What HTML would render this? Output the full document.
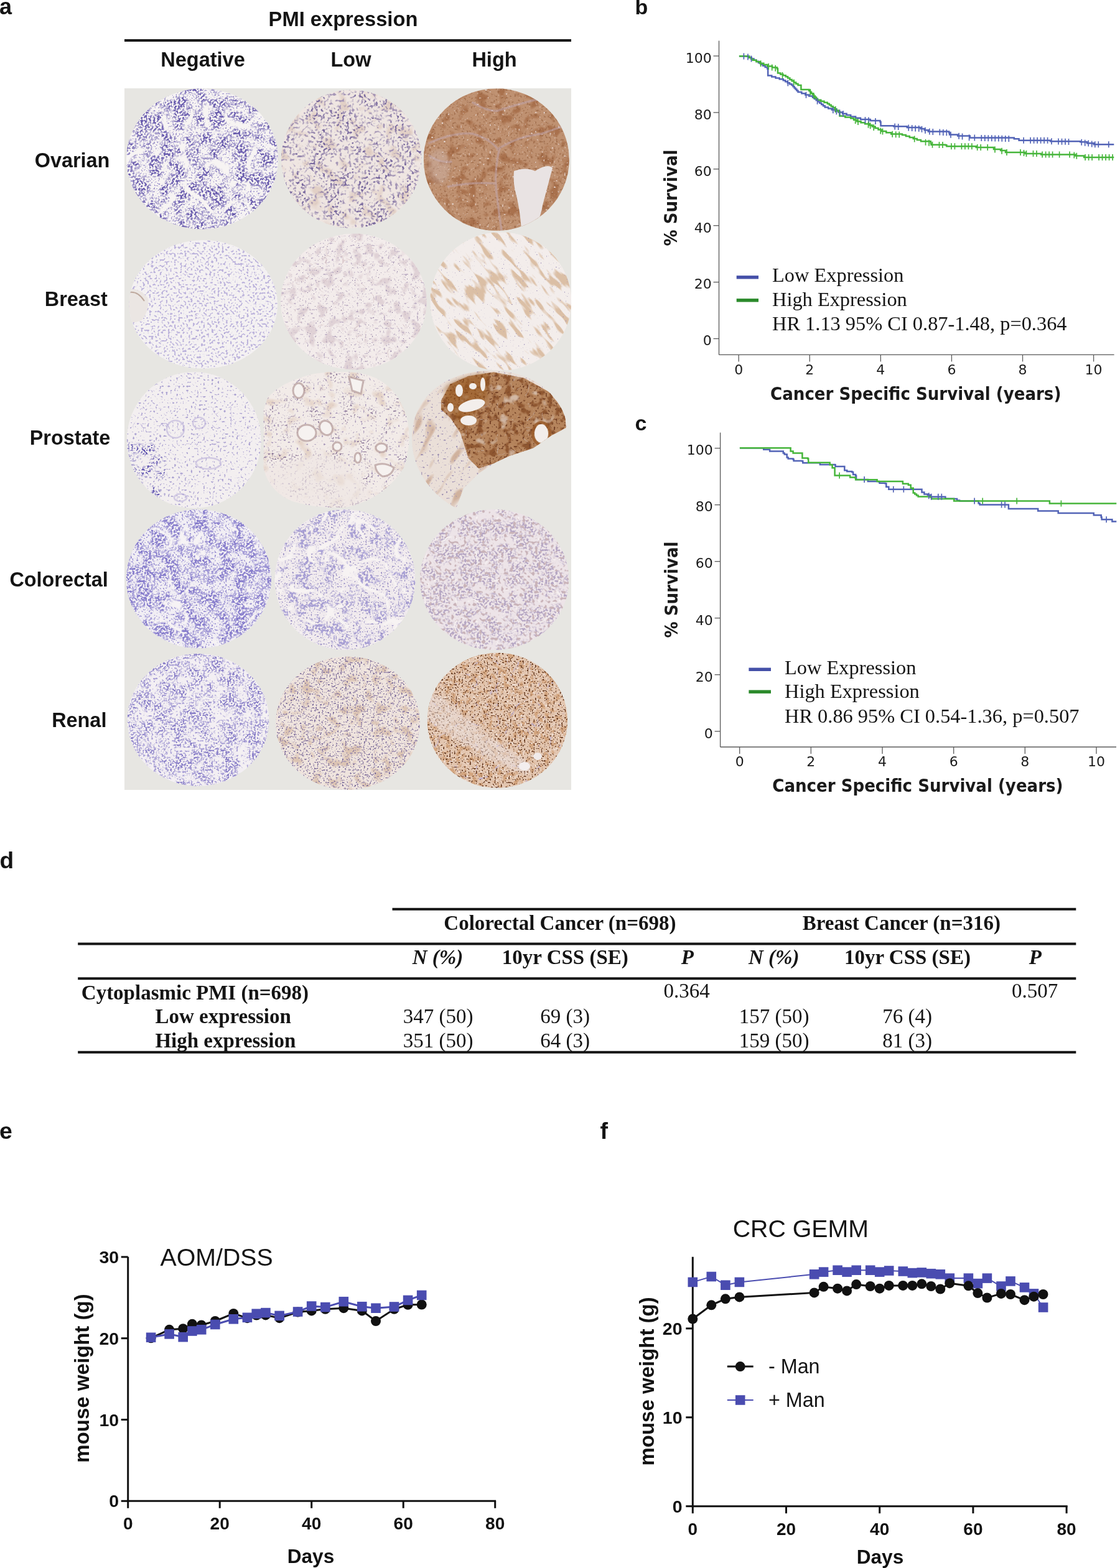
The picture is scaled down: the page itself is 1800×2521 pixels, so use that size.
<!DOCTYPE html>
<html><head><meta charset="utf-8"><title>Figure</title>
<style>
html,body{margin:0;padding:0;background:#fff;}
body{width:1800px;height:2521px;overflow:hidden;}
svg{display:block;}
</style></head>
<body>
<svg width="1800" height="2521" viewBox="0 0 1800 2521">
<defs>
<filter id="soft" x="-10%" y="-10%" width="120%" height="120%"><feGaussianBlur stdDeviation="3"/></filter>
<clipPath id="cl0"><ellipse cx="325" cy="255.5" rx="122" ry="113"/></clipPath>
<filter id="n1" x="0" y="0" width="100%" height="100%" color-interpolation-filters="sRGB"><feTurbulence type="fractalNoise" baseFrequency="0.3" numOctaves="1" seed="1" result="a"/><feColorMatrix in="a" type="matrix" values="0 0 0 0 0.420 0 0 0 0 0.369 0 0 0 0 0.682 12 0 0 0 -5.763" result="sp"/><feTurbulence type="fractalNoise" baseFrequency="0.05" numOctaves="2" seed="31" result="lo"/><feColorMatrix in="lo" type="matrix" values="0 0 0 0 0 0 0 0 0 0 0 0 0 0 0 4 0 0 0 -1.426" result="m"/><feComposite in="sp" in2="m" operator="in"/></filter>
<filter id="n2" x="0" y="0" width="100%" height="100%" color-interpolation-filters="sRGB"><feTurbulence type="fractalNoise" baseFrequency="0.4" numOctaves="1" seed="2" result="a"/><feColorMatrix in="a" type="matrix" values="0 0 0 0 0.541 0 0 0 0 0.494 0 0 0 0 0.769 10 0 0 0 -5.865" result="sp"/></filter>
<filter id="n3" x="0" y="0" width="100%" height="100%" color-interpolation-filters="sRGB"><feTurbulence type="turbulence" baseFrequency="0.015" numOctaves="2" seed="44" result="a"/><feColorMatrix in="a" type="matrix" values="0 0 0 0 0.969 0 0 0 0 0.957 0 0 0 0 0.953 -16 0 0 0 2.080"/></filter>
<clipPath id="cl1"><ellipse cx="564.8" cy="255.8" rx="112.8" ry="111.2"/></clipPath>
<filter id="n4" x="0" y="0" width="100%" height="100%" color-interpolation-filters="sRGB"><feTurbulence type="fractalNoise" baseFrequency="0.05" numOctaves="2" seed="3" result="a"/><feColorMatrix in="a" type="matrix" values="0 0 0 0 0.886 0 0 0 0 0.816 0 0 0 0 0.776 5 0 0 0 -2.642" result="sp"/></filter>
<filter id="n5" x="0" y="0" width="100%" height="100%" color-interpolation-filters="sRGB"><feTurbulence type="fractalNoise" baseFrequency="0.26" numOctaves="1" seed="4" result="a"/><feColorMatrix in="a" type="matrix" values="0 0 0 0 0.478 0 0 0 0 0.416 0 0 0 0 0.620 9 0 0 0 -4.808" result="sp"/><feTurbulence type="fractalNoise" baseFrequency="0.04" numOctaves="2" seed="32" result="lo"/><feColorMatrix in="lo" type="matrix" values="0 0 0 0 0 0 0 0 0 0 0 0 0 0 0 4 0 0 0 -1.426" result="m"/><feComposite in="sp" in2="m" operator="in"/></filter>
<filter id="n6" x="0" y="0" width="100%" height="100%" color-interpolation-filters="sRGB"><feTurbulence type="fractalNoise" baseFrequency="0.2" numOctaves="1" seed="41" result="a"/><feColorMatrix in="a" type="matrix" values="0 0 0 0 0.647 0 0 0 0 0.588 0 0 0 0 0.714 8 0 0 0 -4.754" result="sp"/></filter>
<clipPath id="cl2"><ellipse cx="797.8" cy="256.6" rx="117" ry="114.3"/></clipPath>
<filter id="n7" x="0" y="0" width="100%" height="100%" color-interpolation-filters="sRGB"><feTurbulence type="fractalNoise" baseFrequency="0.06" numOctaves="2" seed="5" result="a"/><feColorMatrix in="a" type="matrix" values="0 0 0 0 0.643 0 0 0 0 0.416 0 0 0 0 0.271 5 0 0 0 -2.570" result="sp"/></filter>
<filter id="n8" x="0" y="0" width="100%" height="100%" color-interpolation-filters="sRGB"><feTurbulence type="fractalNoise" baseFrequency="0.3" numOctaves="1" seed="6" result="a"/><feColorMatrix in="a" type="matrix" values="0 0 0 0 0.545 0 0 0 0 0.337 0 0 0 0 0.204 8 0 0 0 -4.604" result="sp"/></filter>
<filter id="n9" x="0" y="0" width="100%" height="100%" color-interpolation-filters="sRGB"><feTurbulence type="fractalNoise" baseFrequency="0.3" numOctaves="1" seed="7" result="a"/><feColorMatrix in="a" type="matrix" values="0 0 0 0 0.902 0 0 0 0 0.839 0 0 0 0 0.816 8 0 0 0 -5.259" result="sp"/></filter>
<clipPath id="cl3"><ellipse cx="326.8" cy="489.4" rx="119.3" ry="103.4"/></clipPath>
<filter id="n10" x="0" y="0" width="100%" height="100%" color-interpolation-filters="sRGB"><feTurbulence type="fractalNoise" baseFrequency="0.3" numOctaves="1" seed="8" result="a"/><feColorMatrix in="a" type="matrix" values="0 0 0 0 0.741 0 0 0 0 0.706 0 0 0 0 0.863 10 0 0 0 -5.524" result="sp"/></filter>
<filter id="n11" x="0" y="0" width="100%" height="100%" color-interpolation-filters="sRGB"><feTurbulence type="fractalNoise" baseFrequency="0.45" numOctaves="1" seed="9" result="a"/><feColorMatrix in="a" type="matrix" values="0 0 0 0 0.541 0 0 0 0 0.502 0 0 0 0 0.753 9 0 0 0 -6.396" result="sp"/></filter>
<clipPath id="cl4"><ellipse cx="568.4" cy="485" rx="117.4" ry="109.4"/></clipPath>
<filter id="n12" x="0" y="0" width="100%" height="100%" color-interpolation-filters="sRGB"><feTurbulence type="fractalNoise" baseFrequency="0.065" numOctaves="2" seed="10" result="a"/><feColorMatrix in="a" type="matrix" values="0 0 0 0 0.878 0 0 0 0 0.824 0 0 0 0 0.839 6 0 0 0 -3.136" result="sp"/></filter>
<filter id="n13" x="0" y="0" width="100%" height="100%" color-interpolation-filters="sRGB"><feTurbulence type="fractalNoise" baseFrequency="0.3" numOctaves="1" seed="11" result="a"/><feColorMatrix in="a" type="matrix" values="0 0 0 0 0.765 0 0 0 0 0.710 0 0 0 0 0.784 10 0 0 0 -6.262" result="sp"/></filter>
<filter id="n14" x="0" y="0" width="100%" height="100%" color-interpolation-filters="sRGB"><feTurbulence type="fractalNoise" baseFrequency="0.5" numOctaves="1" seed="12" result="a"/><feColorMatrix in="a" type="matrix" values="0 0 0 0 0.420 0 0 0 0 0.353 0 0 0 0 0.525 9 0 0 0 -6.396" result="sp"/></filter>
<filter id="n15" x="0" y="0" width="100%" height="100%" color-interpolation-filters="sRGB"><feTurbulence type="turbulence" baseFrequency="0.04" numOctaves="2" seed="50" result="a"/><feColorMatrix in="a" type="matrix" values="0 0 0 0 0.804 0 0 0 0 0.722 0 0 0 0 0.733 -18 0 0 0 0.900"/></filter>
<clipPath id="cl5"><ellipse cx="804.8" cy="484.5" rx="113.5" ry="111.3"/></clipPath>
<filter id="n16" x="0" y="0" width="100%" height="100%" color-interpolation-filters="sRGB"><feTurbulence type="fractalNoise" baseFrequency="0.028 0.11" numOctaves="2" seed="13" result="a"/><feColorMatrix in="a" type="matrix" values="0 0 0 0 0.859 0 0 0 0 0.749 0 0 0 0 0.647 8 0 0 0 -4.227" result="sp"/></filter>
<filter id="n17" x="0" y="0" width="100%" height="100%" color-interpolation-filters="sRGB"><feTurbulence type="fractalNoise" baseFrequency="0.45" numOctaves="1" seed="14" result="a"/><feColorMatrix in="a" type="matrix" values="0 0 0 0 0.616 0 0 0 0 0.561 0 0 0 0 0.722 9 0 0 0 -6.265" result="sp"/></filter>
<clipPath id="cl6"><ellipse cx="311.8" cy="707.5" rx="108" ry="109.5"/></clipPath>
<filter id="n18" x="0" y="0" width="100%" height="100%" color-interpolation-filters="sRGB"><feTurbulence type="fractalNoise" baseFrequency="0.3" numOctaves="1" seed="15" result="a"/><feColorMatrix in="a" type="matrix" values="0 0 0 0 0.682 0 0 0 0 0.647 0 0 0 0 0.824 10 0 0 0 -6.114" result="sp"/></filter>
<filter id="n19" x="0" y="0" width="100%" height="100%" color-interpolation-filters="sRGB"><feTurbulence type="fractalNoise" baseFrequency="0.35" numOctaves="1" seed="16" result="a"/><feColorMatrix in="a" type="matrix" values="0 0 0 0 0.376 0 0 0 0 0.333 0 0 0 0 0.690 12 0 0 0 -6.169" result="sp"/><feTurbulence type="fractalNoise" baseFrequency="0.06" numOctaves="2" seed="54" result="lo"/><feColorMatrix in="lo" type="matrix" values="0 0 0 0 0 0 0 0 0 0 0 0 0 0 0 4 0 0 0 -1.623" result="m"/><feComposite in="sp" in2="m" operator="in"/></filter>
<clipPath id="lc20"><path d="M204,715 Q220,700 245,712 Q268,735 266,765 Q262,800 240,812 Q215,805 205,785 Z"/></clipPath>
<filter id="n21" x="0" y="0" width="100%" height="100%" color-interpolation-filters="sRGB"><feTurbulence type="turbulence" baseFrequency="0.035" numOctaves="2" seed="51" result="a"/><feColorMatrix in="a" type="matrix" values="0 0 0 0 0.702 0 0 0 0 0.659 0 0 0 0 0.839 -20 0 0 0 0.800"/></filter>
<clipPath id="cl7"><path d="M423.5,660 L423.5,752 Q432,790 470,806 Q520,820 560,815 Q620,800 650,750 Q665,700 650,660 Q630,610 580,600 Q540,594 500,602 Q450,615 430,640 Z"/></clipPath>
<filter id="n22" x="0" y="0" width="100%" height="100%" color-interpolation-filters="sRGB"><feTurbulence type="fractalNoise" baseFrequency="0.05" numOctaves="2" seed="17" result="a"/><feColorMatrix in="a" type="matrix" values="0 0 0 0 0.894 0 0 0 0 0.824 0 0 0 0 0.776 4 0 0 0 -2.173" result="sp"/></filter>
<filter id="n23" x="0" y="0" width="100%" height="100%" color-interpolation-filters="sRGB"><feTurbulence type="fractalNoise" baseFrequency="0.35" numOctaves="1" seed="18" result="a"/><feColorMatrix in="a" type="matrix" values="0 0 0 0 0.541 0 0 0 0 0.459 0 0 0 0 0.588 12 0 0 0 -7.038" result="sp"/><feTurbulence type="fractalNoise" baseFrequency="0.04" numOctaves="2" seed="34" result="lo"/><feColorMatrix in="lo" type="matrix" values="0 0 0 0 0 0 0 0 0 0 0 0 0 0 0 4 0 0 0 -1.944" result="m"/><feComposite in="sp" in2="m" operator="in"/></filter>
<filter id="n24" x="0" y="0" width="100%" height="100%" color-interpolation-filters="sRGB"><feTurbulence type="fractalNoise" baseFrequency="0.3" numOctaves="1" seed="60" result="a"/><feColorMatrix in="a" type="matrix" values="0 0 0 0 0.659 0 0 0 0 0.596 0 0 0 0 0.722 10 0 0 0 -6.435" result="sp"/></filter>
<clipPath id="cl8"><path d="M733.3,816.8 C700,800 662,760 662,705 C662,640 715,596 790,596 C860,596 905,640 911.2,684 L909.6,687.9 L885.1,701 L857.3,720.5 L818.2,733.6 L793.7,745 L769.2,761.3 L744.7,785.8 Z"/></clipPath>
<filter id="n25" x="0" y="0" width="100%" height="100%" color-interpolation-filters="sRGB"><feTurbulence type="fractalNoise" baseFrequency="0.02 0.06" numOctaves="2" seed="55" result="a"/><feColorMatrix in="a" type="matrix" values="0 0 0 0 0.816 0 0 0 0 0.698 0 0 0 0 0.620 6 0 0 0 -3.453" result="sp"/></filter>
<filter id="n26" x="0" y="0" width="100%" height="100%" color-interpolation-filters="sRGB"><feTurbulence type="fractalNoise" baseFrequency="0.3" numOctaves="1" seed="42" result="a"/><feColorMatrix in="a" type="matrix" values="0 0 0 0 0.604 0 0 0 0 0.549 0 0 0 0 0.690 9 0 0 0 -5.792" result="sp"/></filter>
<clipPath id="lc27"><path d="M708.9,643.9 L723.5,617.7 L752.9,604.7 L793.7,598.2 L842.7,608 L883.5,630.8 L908,663.4 L909.6,687.9 L885.1,701 L857.3,720.5 L818.2,733.6 L793.7,745 L769.2,753 L752.9,736.9 L739.9,696.1 L723.5,671.6 L708.9,658.5 Z"/></clipPath>
<filter id="n28" x="0" y="0" width="100%" height="100%" color-interpolation-filters="sRGB"><feTurbulence type="fractalNoise" baseFrequency="0.09" numOctaves="2" seed="19" result="a"/><feColorMatrix in="a" type="matrix" values="0 0 0 0 0.557 0 0 0 0 0.337 0 0 0 0 0.188 6 0 0 0 -3.084" result="sp"/></filter>
<clipPath id="lc29"><path d="M708.9,643.9 L723.5,617.7 L752.9,604.7 L793.7,598.2 L842.7,608 L883.5,630.8 L908,663.4 L909.6,687.9 L885.1,701 L857.3,720.5 L818.2,733.6 L793.7,745 L769.2,753 L752.9,736.9 L739.9,696.1 L723.5,671.6 L708.9,658.5 Z"/></clipPath>
<filter id="n30" x="0" y="0" width="100%" height="100%" color-interpolation-filters="sRGB"><feTurbulence type="fractalNoise" baseFrequency="0.3" numOctaves="1" seed="57" result="a"/><feColorMatrix in="a" type="matrix" values="0 0 0 0 0.467 0 0 0 0 0.267 0 0 0 0 0.157 10 0 0 0 -5.943" result="sp"/></filter>
<clipPath id="lc31"><path d="M708.9,643.9 L723.5,617.7 L752.9,604.7 L793.7,598.2 L842.7,608 L883.5,630.8 L908,663.4 L909.6,687.9 L885.1,701 L857.3,720.5 L818.2,733.6 L793.7,745 L769.2,753 L752.9,736.9 L739.9,696.1 L723.5,671.6 L708.9,658.5 Z"/></clipPath>
<filter id="n32" x="0" y="0" width="100%" height="100%" color-interpolation-filters="sRGB"><feTurbulence type="fractalNoise" baseFrequency="0.06" numOctaves="2" seed="58" result="a"/><feColorMatrix in="a" type="matrix" values="0 0 0 0 0.824 0 0 0 0 0.722 0 0 0 0 0.643 6 0 0 0 -3.696" result="sp"/></filter>
<clipPath id="lc33"><path d="M708.9,643.9 L723.5,617.7 L752.9,604.7 L793.7,598.2 L842.7,608 L883.5,630.8 L908,663.4 L909.6,687.9 L885.1,701 L857.3,720.5 L818.2,733.6 L793.7,745 L769.2,753 L752.9,736.9 L739.9,696.1 L723.5,671.6 L708.9,658.5 Z"/></clipPath>
<filter id="n34" x="0" y="0" width="100%" height="100%" color-interpolation-filters="sRGB"><feTurbulence type="turbulence" baseFrequency="0.04" numOctaves="2" seed="59" result="a"/><feColorMatrix in="a" type="matrix" values="0 0 0 0 0.788 0 0 0 0 0.698 0 0 0 0 0.659 -18 0 0 0 0.900"/></filter>
<clipPath id="lc35"><path d="M708.9,643.9 L723.5,617.7 L752.9,604.7 L793.7,598.2 L842.7,608 L883.5,630.8 L908,663.4 L909.6,687.9 L885.1,701 L857.3,720.5 L818.2,733.6 L793.7,745 L769.2,753 L752.9,736.9 L739.9,696.1 L723.5,671.6 L708.9,658.5 Z"/></clipPath>
<clipPath id="cl9"><ellipse cx="319.4" cy="930.7" rx="116.6" ry="111.7"/></clipPath>
<filter id="n36" x="0" y="0" width="100%" height="100%" color-interpolation-filters="sRGB"><feTurbulence type="fractalNoise" baseFrequency="0.3" numOctaves="1" seed="20" result="a"/><feColorMatrix in="a" type="matrix" values="0 0 0 0 0.529 0 0 0 0 0.490 0 0 0 0 0.800 12 0 0 0 -5.589" result="sp"/><feTurbulence type="fractalNoise" baseFrequency="0.045" numOctaves="2" seed="35" result="lo"/><feColorMatrix in="lo" type="matrix" values="0 0 0 0 0 0 0 0 0 0 0 0 0 0 0 5 0 0 0 -1.920" result="m"/><feComposite in="sp" in2="m" operator="in"/></filter>
<filter id="n37" x="0" y="0" width="100%" height="100%" color-interpolation-filters="sRGB"><feTurbulence type="fractalNoise" baseFrequency="0.4" numOctaves="1" seed="21" result="a"/><feColorMatrix in="a" type="matrix" values="0 0 0 0 0.620 0 0 0 0 0.584 0 0 0 0 0.831 10 0 0 0 -5.587" result="sp"/></filter>
<filter id="n38" x="0" y="0" width="100%" height="100%" color-interpolation-filters="sRGB"><feTurbulence type="turbulence" baseFrequency="0.02" numOctaves="2" seed="45" result="a"/><feColorMatrix in="a" type="matrix" values="0 0 0 0 0.965 0 0 0 0 0.953 0 0 0 0 0.961 -16 0 0 0 1.600"/></filter>
<clipPath id="cl10"><ellipse cx="554.5" cy="932" rx="113" ry="113"/></clipPath>
<filter id="n39" x="0" y="0" width="100%" height="100%" color-interpolation-filters="sRGB"><feTurbulence type="fractalNoise" baseFrequency="0.25" numOctaves="1" seed="22" result="a"/><feColorMatrix in="a" type="matrix" values="0 0 0 0 0.667 0 0 0 0 0.635 0 0 0 0 0.839 10 0 0 0 -4.658" result="sp"/><feTurbulence type="fractalNoise" baseFrequency="0.05" numOctaves="2" seed="36" result="lo"/><feColorMatrix in="lo" type="matrix" values="0 0 0 0 0 0 0 0 0 0 0 0 0 0 0 6 0 0 0 -2.741" result="m"/><feComposite in="sp" in2="m" operator="in"/></filter>
<filter id="n40" x="0" y="0" width="100%" height="100%" color-interpolation-filters="sRGB"><feTurbulence type="fractalNoise" baseFrequency="0.4" numOctaves="1" seed="23" result="a"/><feColorMatrix in="a" type="matrix" values="0 0 0 0 0.604 0 0 0 0 0.565 0 0 0 0 0.769 10 0 0 0 -6.025" result="sp"/></filter>
<filter id="n41" x="0" y="0" width="100%" height="100%" color-interpolation-filters="sRGB"><feTurbulence type="turbulence" baseFrequency="0.02" numOctaves="2" seed="46" result="a"/><feColorMatrix in="a" type="matrix" values="0 0 0 0 0.969 0 0 0 0 0.953 0 0 0 0 0.953 -16 0 0 0 1.920"/></filter>
<clipPath id="cl11"><ellipse cx="794.7" cy="932" rx="119.7" ry="113"/></clipPath>
<filter id="n42" x="0" y="0" width="100%" height="100%" color-interpolation-filters="sRGB"><feTurbulence type="fractalNoise" baseFrequency="0.3" numOctaves="1" seed="24" result="a"/><feColorMatrix in="a" type="matrix" values="0 0 0 0 0.714 0 0 0 0 0.655 0 0 0 0 0.769 10 0 0 0 -4.859" result="sp"/><feTurbulence type="fractalNoise" baseFrequency="0.05" numOctaves="2" seed="37" result="lo"/><feColorMatrix in="lo" type="matrix" values="0 0 0 0 0 0 0 0 0 0 0 0 0 0 0 5 0 0 0 -1.782" result="m"/><feComposite in="sp" in2="m" operator="in"/></filter>
<filter id="n43" x="0" y="0" width="100%" height="100%" color-interpolation-filters="sRGB"><feTurbulence type="fractalNoise" baseFrequency="0.2" numOctaves="1" seed="25" result="a"/><feColorMatrix in="a" type="matrix" values="0 0 0 0 0.788 0 0 0 0 0.702 0 0 0 0 0.722 8 0 0 0 -4.470" result="sp"/></filter>
<filter id="n44" x="0" y="0" width="100%" height="100%" color-interpolation-filters="sRGB"><feTurbulence type="turbulence" baseFrequency="0.03" numOctaves="2" seed="47" result="a"/><feColorMatrix in="a" type="matrix" values="0 0 0 0 0.965 0 0 0 0 0.945 0 0 0 0 0.945 -20 0 0 0 1.200"/></filter>
<clipPath id="cl12"><ellipse cx="318.5" cy="1157.4" rx="113.9" ry="106.4"/></clipPath>
<filter id="n45" x="0" y="0" width="100%" height="100%" color-interpolation-filters="sRGB"><feTurbulence type="fractalNoise" baseFrequency="0.35" numOctaves="1" seed="26" result="a"/><feColorMatrix in="a" type="matrix" values="0 0 0 0 0.541 0 0 0 0 0.502 0 0 0 0 0.784 12 0 0 0 -6.000" result="sp"/><feTurbulence type="fractalNoise" baseFrequency="0.05" numOctaves="2" seed="38" result="lo"/><feColorMatrix in="lo" type="matrix" values="0 0 0 0 0 0 0 0 0 0 0 0 0 0 0 4 0 0 0 -1.426" result="m"/><feComposite in="sp" in2="m" operator="in"/></filter>
<filter id="n46" x="0" y="0" width="100%" height="100%" color-interpolation-filters="sRGB"><feTurbulence type="fractalNoise" baseFrequency="0.3" numOctaves="1" seed="43" result="a"/><feColorMatrix in="a" type="matrix" values="0 0 0 0 0.663 0 0 0 0 0.627 0 0 0 0 0.839 10 0 0 0 -5.865" result="sp"/></filter>
<filter id="n47" x="0" y="0" width="100%" height="100%" color-interpolation-filters="sRGB"><feTurbulence type="turbulence" baseFrequency="0.02" numOctaves="2" seed="48" result="a"/><feColorMatrix in="a" type="matrix" values="0 0 0 0 0.961 0 0 0 0 0.949 0 0 0 0 0.953 -16 0 0 0 1.280"/></filter>
<clipPath id="cl13"><ellipse cx="559" cy="1162.6" rx="116" ry="107.1"/></clipPath>
<filter id="n48" x="0" y="0" width="100%" height="100%" color-interpolation-filters="sRGB"><feTurbulence type="fractalNoise" baseFrequency="0.06" numOctaves="2" seed="27" result="a"/><feColorMatrix in="a" type="matrix" values="0 0 0 0 0.863 0 0 0 0 0.769 0 0 0 0 0.702 5 0 0 0 -2.570" result="sp"/></filter>
<filter id="n49" x="0" y="0" width="100%" height="100%" color-interpolation-filters="sRGB"><feTurbulence type="fractalNoise" baseFrequency="0.4" numOctaves="1" seed="28" result="a"/><feColorMatrix in="a" type="matrix" values="0 0 0 0 0.478 0 0 0 0 0.416 0 0 0 0 0.596 12 0 0 0 -7.282" result="sp"/></filter>
<filter id="n50" x="0" y="0" width="100%" height="100%" color-interpolation-filters="sRGB"><feTurbulence type="fractalNoise" baseFrequency="0.3" numOctaves="1" seed="49" result="a"/><feColorMatrix in="a" type="matrix" values="0 0 0 0 0.659 0 0 0 0 0.596 0 0 0 0 0.706 10 0 0 0 -6.161" result="sp"/></filter>
<clipPath id="cl14"><ellipse cx="799.3" cy="1158.2" rx="112.7" ry="108.6"/></clipPath>
<filter id="n51" x="0" y="0" width="100%" height="100%" color-interpolation-filters="sRGB"><feTurbulence type="fractalNoise" baseFrequency="0.12" numOctaves="2" seed="29" result="a"/><feColorMatrix in="a" type="matrix" values="0 0 0 0 0.824 0 0 0 0 0.643 0 0 0 0 0.494 6 0 0 0 -3.000" result="sp"/></filter>
<filter id="n52" x="0" y="0" width="100%" height="100%" color-interpolation-filters="sRGB"><feTurbulence type="fractalNoise" baseFrequency="0.3" numOctaves="1" seed="52" result="a"/><feColorMatrix in="a" type="matrix" values="0 0 0 0 0.941 0 0 0 0 0.886 0 0 0 0 0.855 10 0 0 0 -6.161" result="sp"/></filter>
<filter id="n53" x="0" y="0" width="100%" height="100%" color-interpolation-filters="sRGB"><feTurbulence type="turbulence" baseFrequency="0.03" numOctaves="2" seed="53" result="a"/><feColorMatrix in="a" type="matrix" values="0 0 0 0 0.722 0 0 0 0 0.667 0 0 0 0 0.816 -18 0 0 0 0.900"/></filter>
<filter id="n54" x="0" y="0" width="100%" height="100%" color-interpolation-filters="sRGB"><feTurbulence type="fractalNoise" baseFrequency="0.4" numOctaves="1" seed="30" result="a"/><feColorMatrix in="a" type="matrix" values="0 0 0 0 0.400 0 0 0 0 0.227 0 0 0 0 0.125 12 0 0 0 -7.131" result="sp"/></filter>
</defs>
<rect width="1800" height="2521" fill="#fff"/>
<text x="-1" y="22.7" font-family="'Liberation Sans', Arial, sans-serif" font-size="36" font-weight="bold" font-style="normal" text-anchor="start" fill="#141414">a</text>
<text x="551.5" y="41.7" font-family="'Liberation Sans', Arial, sans-serif" font-size="32.7" font-weight="bold" font-style="normal" text-anchor="middle" fill="#141414">PMI expression</text>
<line x1="200" y1="65" x2="918" y2="65" stroke="#141414" stroke-width="4"/>
<text x="326" y="107" font-family="'Liberation Sans', Arial, sans-serif" font-size="32.5" font-weight="bold" font-style="normal" text-anchor="middle" fill="#141414">Negative</text>
<text x="564" y="107" font-family="'Liberation Sans', Arial, sans-serif" font-size="32.5" font-weight="bold" font-style="normal" text-anchor="middle" fill="#141414">Low</text>
<text x="794.5" y="107" font-family="'Liberation Sans', Arial, sans-serif" font-size="32.5" font-weight="bold" font-style="normal" text-anchor="middle" fill="#141414">High</text>
<text x="176.4" y="268.5" font-family="'Liberation Sans', Arial, sans-serif" font-size="32.4" font-weight="bold" font-style="normal" text-anchor="end" fill="#141414">Ovarian</text>
<text x="172.7" y="491.6" font-family="'Liberation Sans', Arial, sans-serif" font-size="32.4" font-weight="bold" font-style="normal" text-anchor="end" fill="#141414">Breast</text>
<text x="177.3" y="715.3" font-family="'Liberation Sans', Arial, sans-serif" font-size="32.4" font-weight="bold" font-style="normal" text-anchor="end" fill="#141414">Prostate</text>
<text x="173.8" y="943" font-family="'Liberation Sans', Arial, sans-serif" font-size="32.4" font-weight="bold" font-style="normal" text-anchor="end" fill="#141414">Colorectal</text>
<text x="171.4" y="1168.6" font-family="'Liberation Sans', Arial, sans-serif" font-size="32.4" font-weight="bold" font-style="normal" text-anchor="end" fill="#141414">Renal</text>
<rect x="200" y="142" width="718" height="1128" fill="#e7e6e2"/>
<g clip-path="url(#cl0)"><rect x="203" y="142.5" width="244" height="226" fill="#f6f3f3"/><rect x="203.0" y="142.5" width="244.0" height="226.0" filter="url(#n1)"/><rect x="203.0" y="142.5" width="244.0" height="226.0" filter="url(#n2)" opacity="0.8"/><rect x="203.0" y="142.5" width="244.0" height="226.0" filter="url(#n3)"/></g>
<g clip-path="url(#cl1)"><rect x="451.99999999999994" y="144.60000000000002" width="225.6" height="222.4" fill="#efe6e2"/><rect x="452.0" y="144.6" width="225.6" height="222.4" filter="url(#n4)"/><rect x="452.0" y="144.6" width="225.6" height="222.4" filter="url(#n5)"/><rect x="452.0" y="144.6" width="225.6" height="222.4" filter="url(#n6)"/></g>
<g clip-path="url(#cl2)"><rect x="680.8" y="142.3" width="234" height="228.6" fill="#bf9171"/><rect x="680.8" y="142.3" width="234.0" height="228.6" filter="url(#n7)" opacity="0.8"/><rect x="680.8" y="142.3" width="234.0" height="228.6" filter="url(#n8)" opacity="0.5"/><rect x="680.8" y="142.3" width="234.0" height="228.6" filter="url(#n9)"/><g fill="none" stroke="#c2aab8" stroke-width="3.5" stroke-linecap="round" opacity="0.45"><path d="M690,230 Q730,212 760,215 Q790,225 800,240 Q830,220 870,215 Q900,205 912,200"/><path d="M803,238 Q795,270 797,300 Q800,330 806,370"/><path d="M720,300 Q760,292 797,295"/><path d="M760,165 Q785,180 800,178 Q830,168 870,158"/><path d="M690,250 Q705,262 725,260"/></g><path d="M826,275 Q845,268 860,275 Q880,262 888,270 Q880,300 872,330 Q868,355 856,368 L838,370 Q836,340 830,315 Q824,295 826,275 Z" fill="#e9e3e3"/><ellipse cx="705" cy="268" rx="18" ry="28" fill="#d3c0bd" opacity="0.35" filter="url(#soft)"/></g>
<g clip-path="url(#cl3)"><rect x="207.5" y="386.0" width="238.6" height="206.8" fill="#f4f1f2"/><rect x="207.5" y="386.0" width="238.6" height="206.8" filter="url(#n10)"/><rect x="207.5" y="386.0" width="238.6" height="206.8" filter="url(#n11)"/><path d="M205,465 Q225,462 238,480 Q240,500 228,515 Q215,520 205,518 Z" fill="#ebe6e3"/><path d="M208,470 Q222,468 232,484" stroke="#a08070" stroke-width="2" fill="none" opacity="0.6"/></g>
<g clip-path="url(#cl4)"><rect x="451.0" y="375.6" width="234.8" height="218.8" fill="#f3eceb"/><rect x="451.0" y="375.6" width="234.8" height="218.8" filter="url(#n12)"/><rect x="451.0" y="375.6" width="234.8" height="218.8" filter="url(#n13)"/><rect x="451.0" y="375.6" width="234.8" height="218.8" filter="url(#n14)"/><rect x="451.0" y="375.6" width="234.8" height="218.8" filter="url(#n15)" opacity="0.6"/></g>
<g clip-path="url(#cl5)"><rect x="691.3" y="373.2" width="227.0" height="222.6" fill="#f3edeb"/><g transform="rotate(50 804.8 484.5)"><rect x="634.5" y="314.2" width="340.5" height="340.5" filter="url(#n16)"/></g><rect x="691.3" y="373.2" width="227.0" height="222.6" filter="url(#n17)"/></g>
<g clip-path="url(#cl6)"><rect x="203.8" y="598.0" width="216" height="219.0" fill="#f3eff0"/><rect x="203.8" y="598.0" width="216.0" height="219.0" filter="url(#n18)"/><g clip-path="url(#lc20)"><rect x="203.8" y="598.0" width="216.0" height="219.0" filter="url(#n19)"/></g><rect x="203.8" y="598.0" width="216.0" height="219.0" filter="url(#n21)" opacity="0.7"/><g fill="none" stroke="#b6abd8" stroke-width="2.5" opacity="0.55"><ellipse cx="282" cy="690" rx="14" ry="14"/><ellipse cx="320" cy="680" rx="10" ry="9"/><ellipse cx="335" cy="745" rx="20" ry="9"/><ellipse cx="290" cy="800" rx="10" ry="6"/></g></g>
<g clip-path="url(#cl7)"><rect x="423.6" y="597.8" width="236" height="219.2" fill="#f2ebe8"/><rect x="423.6" y="597.8" width="236.0" height="219.2" filter="url(#n22)"/><rect x="423.6" y="597.8" width="236.0" height="219.2" filter="url(#n23)"/><rect x="423.6" y="597.8" width="236.0" height="219.2" filter="url(#n24)"/><g fill="#f6f2f0" stroke="#b49a98" stroke-width="3" stroke-opacity="0.7"><ellipse cx="524" cy="688" rx="10" ry="12" transform="rotate(-30 524 688)"/><ellipse cx="493" cy="696" rx="15" ry="13"/><path d="M561,606 L584,612 L580,633 L566,628 Z"/><ellipse cx="542" cy="718" rx="7" ry="7"/><ellipse cx="575" cy="736" rx="5" ry="8"/><ellipse cx="613" cy="720" rx="9" ry="7"/><path d="M603,748 Q618,742 633,752 Q630,765 615,766 Q604,760 603,748 Z"/><ellipse cx="480" cy="628" rx="9" ry="12"/></g><path d="M424,760 Q470,730 530,730 Q570,745 600,800 L560,820 L430,800 Z" fill="#efe6e3" opacity="0.6" filter="url(#soft)"/></g>
<g clip-path="url(#cl8)"><rect x="662" y="596" width="250" height="222" fill="#eadfd8"/><g transform="rotate(-60 740 760)"><rect x="552.5" y="572.5" width="375.0" height="375.0" filter="url(#n25)"/></g><rect x="662.0" y="596.0" width="250.0" height="222.0" filter="url(#n26)"/><g clip-path="url(#lc27)"><rect x="662.0" y="596.0" width="250.0" height="222.0" fill="#b5845c"/></g><g clip-path="url(#lc29)"><rect x="662.0" y="596.0" width="250.0" height="222.0" filter="url(#n28)"/></g><g clip-path="url(#lc31)"><rect x="662.0" y="596.0" width="250.0" height="222.0" filter="url(#n30)"/></g><g clip-path="url(#lc33)"><rect x="662.0" y="596.0" width="250.0" height="222.0" filter="url(#n32)"/></g><g clip-path="url(#lc35)"><rect x="662.0" y="596.0" width="250.0" height="222.0" filter="url(#n34)" opacity="0.8"/></g><path d="M716,622 Q740,603 785,600 L783,640 Q765,655 748,690 Q725,668 716,640 Z" fill="#95571f" opacity="0.55" filter="url(#soft)"/><g fill="#f3eeeb"><ellipse cx="758" cy="652" rx="22" ry="9" transform="rotate(-15 758 652)"/><ellipse cx="753" cy="676" rx="13" ry="8"/><ellipse cx="738" cy="628" rx="6" ry="10"/><ellipse cx="760" cy="621" rx="6" ry="5"/><ellipse cx="776" cy="618" rx="4" ry="11"/><ellipse cx="724" cy="655" rx="5" ry="7"/><ellipse cx="870" cy="697" rx="11" ry="15"/></g><ellipse cx="870" cy="697" rx="14" ry="18" fill="none" stroke="#9a5a28" stroke-width="4" opacity="0.8"/></g>
<g clip-path="url(#cl9)"><rect x="202.79999999999998" y="819.0" width="233.2" height="223.4" fill="#f1eef4"/><rect x="202.8" y="819.0" width="233.2" height="223.4" filter="url(#n36)"/><rect x="202.8" y="819.0" width="233.2" height="223.4" filter="url(#n37)"/><rect x="202.8" y="819.0" width="233.2" height="223.4" filter="url(#n38)"/></g>
<g clip-path="url(#cl10)"><rect x="441.5" y="819" width="226" height="226" fill="#f1ebee"/><rect x="441.5" y="819.0" width="226.0" height="226.0" filter="url(#n39)"/><rect x="441.5" y="819.0" width="226.0" height="226.0" filter="url(#n40)"/><rect x="441.5" y="819.0" width="226.0" height="226.0" filter="url(#n41)"/></g>
<g clip-path="url(#cl11)"><rect x="675.0" y="819" width="239.4" height="226" fill="#ede4e8"/><rect x="675.0" y="819.0" width="239.4" height="226.0" filter="url(#n42)"/><rect x="675.0" y="819.0" width="239.4" height="226.0" filter="url(#n43)"/><rect x="675.0" y="819.0" width="239.4" height="226.0" filter="url(#n44)"/></g>
<g clip-path="url(#cl12)"><rect x="204.6" y="1051.0" width="227.8" height="212.8" fill="#f3eff3"/><rect x="204.6" y="1051.0" width="227.8" height="212.8" filter="url(#n45)"/><rect x="204.6" y="1051.0" width="227.8" height="212.8" filter="url(#n46)"/><rect x="204.6" y="1051.0" width="227.8" height="212.8" filter="url(#n47)"/></g>
<g clip-path="url(#cl13)"><rect x="443" y="1055.5" width="232" height="214.2" fill="#efe4de"/><rect x="443.0" y="1055.5" width="232.0" height="214.2" filter="url(#n48)"/><rect x="443.0" y="1055.5" width="232.0" height="214.2" filter="url(#n49)"/><rect x="443.0" y="1055.5" width="232.0" height="214.2" filter="url(#n50)"/></g>
<g clip-path="url(#cl14)"><rect x="686.5999999999999" y="1049.6000000000001" width="225.4" height="217.2" fill="#e3c6b0"/><rect x="686.6" y="1049.6" width="225.4" height="217.2" filter="url(#n51)"/><rect x="686.6" y="1049.6" width="225.4" height="217.2" filter="url(#n52)"/><rect x="686.6" y="1049.6" width="225.4" height="217.2" filter="url(#n53)" opacity="0.8"/><rect x="686.6" y="1049.6" width="225.4" height="217.2" filter="url(#n54)"/><path d="M686,1116 Q700,1112 715,1125 Q740,1148 770,1170 Q800,1195 830,1212 Q848,1222 852,1240 Q840,1246 822,1236 Q790,1222 760,1205 Q730,1188 708,1172 Q692,1160 686,1150 Z" fill="#ece3e4" opacity="0.5" filter="url(#soft)"/><ellipse cx="843" cy="1232" rx="9" ry="7" fill="#f3eeee"/><ellipse cx="864" cy="1216" rx="7" ry="6" fill="#f0eaea"/></g>
<text x="1020.5" y="22.9" font-family="'Liberation Sans', Arial, sans-serif" font-size="34" font-weight="bold" font-style="normal" text-anchor="start" fill="#141414">b</text>
<line x1="1155.5" y1="65.5" x2="1155.5" y2="570.4" stroke="#5a5a5a" stroke-width="1.3"/>
<line x1="1155.5" y1="570.4" x2="1790.6" y2="570.4" stroke="#5a5a5a" stroke-width="1.3"/>
<line x1="1146.5" y1="90.0" x2="1155.5" y2="90.0" stroke="#5a5a5a" stroke-width="1.3"/>
<text x="1143.7" y="100.8" font-family="'DejaVu Sans', sans-serif" font-size="22" font-weight="normal" font-style="normal" text-anchor="end" fill="#1a1a1a">100</text>
<line x1="1146.5" y1="180.9" x2="1155.5" y2="180.9" stroke="#5a5a5a" stroke-width="1.3"/>
<text x="1143.7" y="191.70000000000002" font-family="'DejaVu Sans', sans-serif" font-size="22" font-weight="normal" font-style="normal" text-anchor="end" fill="#1a1a1a">80</text>
<line x1="1146.5" y1="271.8" x2="1155.5" y2="271.8" stroke="#5a5a5a" stroke-width="1.3"/>
<text x="1143.7" y="282.6" font-family="'DejaVu Sans', sans-serif" font-size="22" font-weight="normal" font-style="normal" text-anchor="end" fill="#1a1a1a">60</text>
<line x1="1146.5" y1="362.70000000000005" x2="1155.5" y2="362.70000000000005" stroke="#5a5a5a" stroke-width="1.3"/>
<text x="1143.7" y="373.50000000000006" font-family="'DejaVu Sans', sans-serif" font-size="22" font-weight="normal" font-style="normal" text-anchor="end" fill="#1a1a1a">40</text>
<line x1="1146.5" y1="453.6" x2="1155.5" y2="453.6" stroke="#5a5a5a" stroke-width="1.3"/>
<text x="1143.7" y="464.40000000000003" font-family="'DejaVu Sans', sans-serif" font-size="22" font-weight="normal" font-style="normal" text-anchor="end" fill="#1a1a1a">20</text>
<line x1="1146.5" y1="544.5" x2="1155.5" y2="544.5" stroke="#5a5a5a" stroke-width="1.3"/>
<text x="1143.7" y="555.3" font-family="'DejaVu Sans', sans-serif" font-size="22" font-weight="normal" font-style="normal" text-anchor="end" fill="#1a1a1a">0</text>
<line x1="1187.2" y1="570.4" x2="1187.2" y2="581.4" stroke="#5a5a5a" stroke-width="1.3"/>
<text x="1187.2" y="602" font-family="'DejaVu Sans', sans-serif" font-size="22" font-weight="normal" font-style="normal" text-anchor="middle" fill="#1a1a1a">0</text>
<line x1="1301.28" y1="570.4" x2="1301.28" y2="581.4" stroke="#5a5a5a" stroke-width="1.3"/>
<text x="1301.28" y="602" font-family="'DejaVu Sans', sans-serif" font-size="22" font-weight="normal" font-style="normal" text-anchor="middle" fill="#1a1a1a">2</text>
<line x1="1415.3600000000001" y1="570.4" x2="1415.3600000000001" y2="581.4" stroke="#5a5a5a" stroke-width="1.3"/>
<text x="1415.3600000000001" y="602" font-family="'DejaVu Sans', sans-serif" font-size="22" font-weight="normal" font-style="normal" text-anchor="middle" fill="#1a1a1a">4</text>
<line x1="1529.44" y1="570.4" x2="1529.44" y2="581.4" stroke="#5a5a5a" stroke-width="1.3"/>
<text x="1529.44" y="602" font-family="'DejaVu Sans', sans-serif" font-size="22" font-weight="normal" font-style="normal" text-anchor="middle" fill="#1a1a1a">6</text>
<line x1="1643.52" y1="570.4" x2="1643.52" y2="581.4" stroke="#5a5a5a" stroke-width="1.3"/>
<text x="1643.52" y="602" font-family="'DejaVu Sans', sans-serif" font-size="22" font-weight="normal" font-style="normal" text-anchor="middle" fill="#1a1a1a">8</text>
<line x1="1757.6" y1="570.4" x2="1757.6" y2="581.4" stroke="#5a5a5a" stroke-width="1.3"/>
<text x="1757.6" y="602" font-family="'DejaVu Sans', sans-serif" font-size="22" font-weight="normal" font-style="normal" text-anchor="middle" fill="#1a1a1a">10</text>
<text x="1471.7" y="642.9" font-family="'DejaVu Sans Condensed', 'DejaVu Sans', sans-serif" font-size="29" font-weight="bold" font-style="normal" text-anchor="middle" fill="#1a1a1a">Cancer Specific Survival (years)</text>
<text transform="translate(1087.7,318) rotate(-90)" x="0" y="0" font-family="'DejaVu Sans Condensed', 'DejaVu Sans', sans-serif" font-size="29" font-weight="bold" text-anchor="middle" fill="#1a1a1a">% Survival</text>
<polyline points="1187.9,90.2 1200.0,90.2 1200.0,90.5 1203.9,90.5 1203.9,92.5 1207.8,92.5 1207.8,94.6 1211.6,94.6 1211.6,96.7 1215.5,96.7 1215.5,98.7 1219.0,98.7 1219.0,101.1 1222.6,101.1 1222.6,103.4 1226.1,103.4 1226.1,105.8 1229.7,105.8 1229.7,108.1 1233.2,108.1 1233.2,110.5 1234.2,110.5 1234.2,121.4 1240.3,121.4 1240.3,123.4 1246.5,123.4 1246.5,125.4 1252.7,125.4 1252.7,127.3 1258.8,127.3 1258.8,129.3 1262.2,129.3 1262.2,131.2 1265.7,131.2 1265.7,133.2 1269.1,133.2 1269.1,135.2 1272.6,135.2 1272.6,137.1 1274.6,137.1 1274.6,139.3 1276.6,139.3 1276.6,141.5 1278.5,141.5 1278.5,143.6 1280.5,143.6 1280.5,145.8 1282.5,145.8 1282.5,148.0 1288.4,148.0 1288.4,150.2 1294.3,150.2 1294.3,152.4 1300.2,152.4 1300.2,154.6 1306.1,154.6 1306.1,156.8 1308.9,156.8 1308.9,159.1 1311.7,159.1 1311.7,161.3 1314.5,161.3 1314.5,163.6 1317.4,163.6 1317.4,165.8 1320.2,165.8 1320.2,168.1 1323.0,168.1 1323.0,170.3 1325.8,170.3 1325.8,172.6 1331.2,172.6 1331.2,174.6 1336.7,174.6 1336.7,176.6 1342.1,176.6 1342.1,178.5 1347.5,178.5 1347.5,180.5 1354.1,180.5 1354.1,182.8 1360.6,182.8 1360.6,185.1 1367.2,185.1 1367.2,187.4 1375.1,187.4 1375.1,189.7 1383.0,189.7 1383.0,191.9 1398.8,191.9 1398.8,193.9 1414.5,193.9 1414.5,195.9 1415.5,195.9 1415.5,202.2 1436.2,202.2 1436.2,203.2 1457.8,203.2 1457.8,205.1 1479.5,205.1 1479.5,207.1 1485.7,207.1 1485.7,209.3 1491.8,209.3 1491.8,211.5 1525.3,211.5 1525.3,213.5 1526.0,213.5 1526.0,216.5 1539.1,216.5 1539.1,218.4 1558.8,218.4 1558.8,221.4 1629.8,221.4 1629.8,223.3 1637.6,223.3 1637.6,225.7 1686.9,225.7 1686.9,225.7 1688.0,225.7 1688.0,227.3 1736.2,227.3 1736.2,228.3 1747.0,228.3 1747.0,230.2 1757.8,230.2 1757.8,232.2 1790.3,232.2 1790.3,232.2" fill="none" stroke="#5263b6" stroke-width="2.5"/>
<polyline points="1187.9,90.2 1201.7,90.2 1201.7,90.8 1204.3,90.8 1204.3,92.8 1207.0,92.8 1207.0,94.7 1209.6,94.7 1209.6,96.7 1215.5,96.7 1215.5,99.2 1221.4,99.2 1221.4,101.7 1227.3,101.7 1227.3,104.1 1233.2,104.1 1233.2,106.6 1241.1,106.6 1241.1,108.5 1249.0,108.5 1249.0,110.5 1250.0,110.5 1250.0,117.4 1254.3,117.4 1254.3,119.4 1258.5,119.4 1258.5,121.3 1262.8,121.3 1262.8,123.3 1266.1,123.3 1266.1,125.6 1269.4,125.6 1269.4,127.9 1272.7,127.9 1272.7,130.2 1275.9,130.2 1275.9,132.5 1279.2,132.5 1279.2,134.8 1282.5,134.8 1282.5,137.1 1287.4,137.1 1287.4,144.0 1300.2,144.0 1300.2,146.0 1302.2,146.0 1302.2,148.1 1304.1,148.1 1304.1,150.2 1306.1,150.2 1306.1,152.3 1308.1,152.3 1308.1,154.5 1310.1,154.5 1310.1,156.6 1312.0,156.6 1312.0,158.7 1314.0,158.7 1314.0,160.8 1319.3,160.8 1319.3,162.8 1324.5,162.8 1324.5,164.7 1329.8,164.7 1329.8,166.7 1332.8,166.7 1332.8,168.8 1335.7,168.8 1335.7,171.0 1338.7,171.0 1338.7,173.1 1341.6,173.1 1341.6,175.2 1344.5,175.2 1344.5,177.4 1347.5,177.4 1347.5,179.5 1349.5,179.5 1349.5,186.4 1358.3,186.4 1358.3,188.4 1367.2,188.4 1367.2,190.3 1372.1,190.3 1372.1,192.8 1377.0,192.8 1377.0,195.3 1383.6,195.3 1383.6,197.3 1390.1,197.3 1390.1,199.2 1396.7,199.2 1396.7,201.2 1401.7,201.2 1401.7,203.6 1406.6,203.6 1406.6,206.1 1411.5,206.1 1411.5,208.6 1416.5,208.6 1416.5,211.0 1424.3,211.0 1424.3,213.3 1432.2,213.3 1432.2,215.6 1450.0,215.6 1450.0,217.0 1455.9,217.0 1455.9,219.0 1461.8,219.0 1461.8,220.9 1467.7,220.9 1467.7,222.9 1473.8,222.9 1473.8,225.1 1480.0,225.1 1480.0,227.3 1495.8,227.3 1495.8,230.2 1496.5,230.2 1496.5,232.8 1519.4,232.8 1519.4,233.2 1521.4,233.2 1521.4,235.2 1566.7,235.2 1566.7,235.2 1568.7,235.2 1568.7,237.1 1596.3,237.1 1596.3,237.1 1597.0,237.1 1597.0,240.1 1608.1,240.1 1608.1,242.1 1616.0,242.1 1616.0,245.0 1643.5,245.0 1643.5,245.0 1647.5,245.0 1647.5,247.0 1671.1,247.0 1671.1,247.0 1673.1,247.0 1673.1,248.6 1724.3,248.6 1724.3,248.6 1728.3,248.6 1728.3,250.5 1742.1,250.5 1742.1,252.9 1790.3,252.9 1790.3,252.9" fill="none" stroke="#45b53a" stroke-width="2.5"/>
<path d="M1195.4,85.4v10 M1202.0,86.6v10 M1207.5,89.5v10 M1266.3,128.5v10 M1295.5,147.8v10 M1313.6,157.8v10 M1338.8,172.3v10 M1344.3,174.3v10 M1349.5,176.2v10 M1355.0,178.1v10 M1390.5,187.9v10 M1396.0,188.6v10 M1407.0,189.9v10 M1438.2,198.4v10 M1443.7,198.9v10 M1460.2,200.4v10 M1465.7,200.9v10 M1471.2,201.4v10 M1476.7,201.8v10 M1481.5,202.8v10 M1487.0,204.8v10 M1493.8,206.6v10 M1499.3,206.9v10 M1510.3,207.6v10 M1515.8,207.9v10 M1521.3,208.3v10 M1528.0,211.8v10 M1541.1,213.7v10 M1546.6,214.5v10 M1557.6,216.2v10 M1566.3,216.6v10 M1577.3,216.9v10 M1582.8,217.0v10 M1588.3,217.2v10 M1593.8,217.3v10 M1599.3,217.5v10 M1604.8,217.6v10 M1610.3,217.8v10 M1615.8,217.9v10 M1621.3,218.1v10 M1645.1,220.7v10 M1656.1,220.7v10 M1661.6,220.7v10 M1667.1,220.7v10 M1672.6,220.7v10 M1678.1,220.7v10 M1683.6,220.7v10 M1690.0,222.3v10 M1701.0,222.6v10 M1706.5,222.7v10 M1712.0,222.8v10 M1717.5,222.9v10 M1738.2,223.7v10 M1743.7,224.7v10 M1749.2,225.6v10 M1754.7,226.6v10 M1759.8,227.2v10 M1765.3,227.2v10 M1781.8,227.2v10" stroke="#5263b6" stroke-width="1.7" fill="none"/>
<path d="M1222.6,97.2v10 M1235.2,102.1v10 M1240.7,103.5v10 M1246.2,104.8v10 M1257.5,115.9v10 M1275.8,127.4v10 M1302.2,143.1v10 M1307.7,149.0v10 M1342.8,171.1v10 M1374.7,189.1v10 M1379.0,190.9v10 M1395.5,195.8v10 M1398.7,197.2v10 M1404.2,199.9v10 M1415.2,205.4v10 M1418.5,206.6v10 M1434.2,210.8v10 M1439.7,211.2v10 M1445.2,211.6v10 M1469.7,218.6v10 M1487.5,223.7v10 M1493.0,224.7v10 M1498.5,227.8v10 M1509.5,228.0v10 M1515.0,228.1v10 M1528.9,230.2v10 M1534.4,230.2v10 M1545.4,230.2v10 M1550.9,230.2v10 M1556.4,230.2v10 M1561.9,230.2v10 M1570.7,232.1v10 M1576.2,232.1v10 M1587.2,232.1v10 M1599.0,235.5v10 M1610.1,237.8v10 M1618.0,240.0v10 M1640.0,240.0v10 M1645.5,241.0v10 M1649.5,242.0v10 M1660.5,242.0v10 M1666.0,242.0v10 M1675.1,243.6v10 M1680.6,243.6v10 M1686.1,243.6v10 M1691.6,243.6v10 M1702.6,243.6v10 M1719.1,243.6v10 M1726.3,244.6v10 M1730.3,245.8v10 M1744.1,247.9v10 M1749.6,247.9v10 M1755.1,247.9v10 M1766.1,247.9v10 M1771.6,247.9v10 M1777.1,247.9v10 M1782.6,247.9v10 M1788.1,247.9v10" stroke="#45b53a" stroke-width="1.7" fill="none"/>
<rect x="1183.7" y="443.1" width="35.299999999999955" height="5.4" fill="#4550a8"/>
<rect x="1183.7" y="480.1" width="35.299999999999955" height="5.4" fill="#2b8a2b"/>
<text x="1241" y="453" font-family="'Liberation Serif', 'Times New Roman', serif" font-size="32.4" font-weight="normal" font-style="normal" text-anchor="start" fill="#141414">Low Expression</text>
<text x="1241" y="491.6" font-family="'Liberation Serif', 'Times New Roman', serif" font-size="32.4" font-weight="normal" font-style="normal" text-anchor="start" fill="#141414">High Expression</text>
<text x="1241" y="531" font-family="'Liberation Serif', 'Times New Roman', serif" font-size="32.4" font-weight="normal" font-style="normal" text-anchor="start" fill="#141414">HR 1.13 95% CI 0.87-1.48, p=0.364</text>
<text x="1020.5" y="692" font-family="'Liberation Sans', Arial, sans-serif" font-size="34" font-weight="bold" font-style="normal" text-anchor="start" fill="#141414">c</text>
<line x1="1157.6" y1="695.5" x2="1157.6" y2="1201" stroke="#5a5a5a" stroke-width="1.3"/>
<line x1="1157.6" y1="1201" x2="1794" y2="1201" stroke="#5a5a5a" stroke-width="1.3"/>
<line x1="1148.6" y1="720.6" x2="1157.6" y2="720.6" stroke="#5a5a5a" stroke-width="1.3"/>
<text x="1145.8" y="731.4" font-family="'DejaVu Sans', sans-serif" font-size="22" font-weight="normal" font-style="normal" text-anchor="end" fill="#1a1a1a">100</text>
<line x1="1148.6" y1="811.64" x2="1157.6" y2="811.64" stroke="#5a5a5a" stroke-width="1.3"/>
<text x="1145.8" y="822.4399999999999" font-family="'DejaVu Sans', sans-serif" font-size="22" font-weight="normal" font-style="normal" text-anchor="end" fill="#1a1a1a">80</text>
<line x1="1148.6" y1="902.6800000000001" x2="1157.6" y2="902.6800000000001" stroke="#5a5a5a" stroke-width="1.3"/>
<text x="1145.8" y="913.48" font-family="'DejaVu Sans', sans-serif" font-size="22" font-weight="normal" font-style="normal" text-anchor="end" fill="#1a1a1a">60</text>
<line x1="1148.6" y1="993.72" x2="1157.6" y2="993.72" stroke="#5a5a5a" stroke-width="1.3"/>
<text x="1145.8" y="1004.52" font-family="'DejaVu Sans', sans-serif" font-size="22" font-weight="normal" font-style="normal" text-anchor="end" fill="#1a1a1a">40</text>
<line x1="1148.6" y1="1084.76" x2="1157.6" y2="1084.76" stroke="#5a5a5a" stroke-width="1.3"/>
<text x="1145.8" y="1095.56" font-family="'DejaVu Sans', sans-serif" font-size="22" font-weight="normal" font-style="normal" text-anchor="end" fill="#1a1a1a">20</text>
<line x1="1148.6" y1="1175.8000000000002" x2="1157.6" y2="1175.8000000000002" stroke="#5a5a5a" stroke-width="1.3"/>
<text x="1145.8" y="1186.6000000000001" font-family="'DejaVu Sans', sans-serif" font-size="22" font-weight="normal" font-style="normal" text-anchor="end" fill="#1a1a1a">0</text>
<line x1="1188.7" y1="1201" x2="1188.7" y2="1212" stroke="#5a5a5a" stroke-width="1.3"/>
<text x="1188.7" y="1232.4" font-family="'DejaVu Sans', sans-serif" font-size="22" font-weight="normal" font-style="normal" text-anchor="middle" fill="#1a1a1a">0</text>
<line x1="1303.3600000000001" y1="1201" x2="1303.3600000000001" y2="1212" stroke="#5a5a5a" stroke-width="1.3"/>
<text x="1303.3600000000001" y="1232.4" font-family="'DejaVu Sans', sans-serif" font-size="22" font-weight="normal" font-style="normal" text-anchor="middle" fill="#1a1a1a">2</text>
<line x1="1418.02" y1="1201" x2="1418.02" y2="1212" stroke="#5a5a5a" stroke-width="1.3"/>
<text x="1418.02" y="1232.4" font-family="'DejaVu Sans', sans-serif" font-size="22" font-weight="normal" font-style="normal" text-anchor="middle" fill="#1a1a1a">4</text>
<line x1="1532.68" y1="1201" x2="1532.68" y2="1212" stroke="#5a5a5a" stroke-width="1.3"/>
<text x="1532.68" y="1232.4" font-family="'DejaVu Sans', sans-serif" font-size="22" font-weight="normal" font-style="normal" text-anchor="middle" fill="#1a1a1a">6</text>
<line x1="1647.3400000000001" y1="1201" x2="1647.3400000000001" y2="1212" stroke="#5a5a5a" stroke-width="1.3"/>
<text x="1647.3400000000001" y="1232.4" font-family="'DejaVu Sans', sans-serif" font-size="22" font-weight="normal" font-style="normal" text-anchor="middle" fill="#1a1a1a">8</text>
<line x1="1762.0" y1="1201" x2="1762.0" y2="1212" stroke="#5a5a5a" stroke-width="1.3"/>
<text x="1762.0" y="1232.4" font-family="'DejaVu Sans', sans-serif" font-size="22" font-weight="normal" font-style="normal" text-anchor="middle" fill="#1a1a1a">10</text>
<text x="1474.9" y="1273.3" font-family="'DejaVu Sans Condensed', 'DejaVu Sans', sans-serif" font-size="29" font-weight="bold" font-style="normal" text-anchor="middle" fill="#1a1a1a">Cancer Specific Survival (years)</text>
<text transform="translate(1088.7,948) rotate(-90)" x="0" y="0" font-family="'DejaVu Sans Condensed', 'DejaVu Sans', sans-serif" font-size="29" font-weight="bold" text-anchor="middle" fill="#1a1a1a">% Survival</text>
<polyline points="1188.9,720.3 1224.3,720.3 1224.3,720.3 1227.3,720.3 1227.3,722.7 1237.1,722.7 1237.1,722.7 1237.1,722.7 1237.1,725.6 1254.9,725.6 1254.9,725.6 1258.8,725.6 1258.8,728.6 1260.8,728.6 1260.8,730.5 1264.7,730.5 1264.7,735.5 1266.7,735.5 1266.7,737.4 1274.6,737.4 1274.6,738.4 1275.6,738.4 1275.6,741.0 1289.4,741.0 1289.4,741.4 1290.3,741.4 1290.3,744.3 1317.9,744.3 1317.9,744.3 1317.9,744.3 1317.9,746.9 1333.7,746.9 1333.7,746.9 1341.6,746.9 1341.6,747.3 1342.6,747.3 1342.6,749.9 1356.4,749.9 1356.4,749.9 1357.3,749.9 1357.3,756.2 1361.3,756.2 1361.3,758.1 1369.2,758.1 1369.2,759.1 1371.1,759.1 1371.1,763.1 1375.1,763.1 1375.1,765.0 1376.1,765.0 1376.1,770.9 1393.8,770.9 1393.8,770.9 1394.8,770.9 1394.8,773.9 1412.5,773.9 1412.5,774.5 1413.5,774.5 1413.5,776.8 1422.4,776.8 1422.4,777.2 1424.3,777.2 1424.3,782.8 1428.3,782.8 1428.3,786.7 1480.5,786.7 1480.5,786.7 1481.5,786.7 1481.5,791.6 1485.4,791.6 1485.4,794.6 1490.8,794.6 1490.8,795.8 1494.8,795.8 1494.8,798.7 1518.4,798.7 1518.4,798.7 1519.4,798.7 1519.4,801.7 1533.2,801.7 1533.2,802.1 1538.1,802.1 1538.1,804.6 1542.1,804.6 1542.1,805.6 1570.6,805.6 1570.6,805.6 1572.6,805.6 1572.6,809.2 1574.6,809.2 1574.6,811.5 1618.9,811.5 1618.9,811.5 1620.9,811.5 1620.9,818.0 1667.2,818.0 1667.2,818.0 1668.2,818.0 1668.2,821.4 1700.7,821.4 1700.7,821.4 1700.7,821.4 1700.7,824.9 1756.8,824.9 1756.8,824.9 1757.8,824.9 1757.8,828.3 1766.7,828.3 1766.7,828.3 1769.7,828.3 1769.7,831.6 1770.6,831.6 1770.6,835.2 1786.4,835.2 1786.4,835.2 1787.4,835.2 1787.4,838.5 1794.3,838.5 1794.3,838.5" fill="none" stroke="#5263b6" stroke-width="2.5"/>
<polyline points="1188.9,720.3 1270.6,720.3 1270.6,720.3 1270.6,720.3 1270.6,725.6 1274.6,725.6 1274.6,728.6 1287.4,728.6 1287.4,728.6 1289.4,728.6 1289.4,736.5 1298.2,736.5 1298.2,737.4 1299.2,737.4 1299.2,743.7 1329.8,743.7 1329.8,743.7 1333.7,743.7 1333.7,747.3 1337.6,747.3 1337.6,752.2 1341.6,752.2 1341.6,759.1 1341.6,759.1 1341.6,764.6 1365.2,764.6 1365.2,764.6 1366.2,764.6 1366.2,767.4 1374.1,767.4 1374.1,768.0 1375.1,768.0 1375.1,771.3 1408.6,771.3 1408.6,771.3 1409.6,771.3 1409.6,773.9 1447.0,773.9 1447.0,773.9 1450.9,773.9 1450.9,777.8 1459.8,777.8 1459.8,779.8 1463.7,779.8 1463.7,784.7 1467.7,784.7 1467.7,792.6 1470.3,792.6 1470.3,794.6 1473.0,794.6 1473.0,796.5 1475.6,796.5 1475.6,798.5 1495.8,798.5 1495.8,799.5 1497.0,799.5 1497.0,802.1 1533.2,802.1 1533.2,802.1 1533.2,802.1 1533.2,805.6 1685.9,805.6 1685.9,805.6 1686.9,805.6 1686.9,809.6 1794.3,809.6 1794.3,809.6" fill="none" stroke="#45b53a" stroke-width="2.5"/>
<path d="M1389.1,765.9v10 M1435.8,781.7v10 M1452.3,781.7v10 M1492.8,792.2v10 M1496.8,793.7v10 M1507.8,793.7v10 M1513.3,793.7v10 M1566.1,800.6v10 M1609.6,806.5v10 M1615.1,806.5v10 M1778.1,830.2v10" stroke="#5263b6" stroke-width="1.7" fill="none"/>
<path d="M1349.1,759.6v10 M1579.2,800.6v10 M1634.2,800.6v10 M1705.4,804.6v10" stroke="#45b53a" stroke-width="1.7" fill="none"/>
<rect x="1203.4" y="1073.6" width="35.59999999999991" height="5.4" fill="#4550a8"/>
<rect x="1203.4" y="1109.5" width="35.59999999999991" height="5.4" fill="#2b8a2b"/>
<text x="1261" y="1083.6" font-family="'Liberation Serif', 'Times New Roman', serif" font-size="32.4" font-weight="normal" font-style="normal" text-anchor="start" fill="#141414">Low Expression</text>
<text x="1261" y="1122" font-family="'Liberation Serif', 'Times New Roman', serif" font-size="32.4" font-weight="normal" font-style="normal" text-anchor="start" fill="#141414">High Expression</text>
<text x="1261" y="1161.5" font-family="'Liberation Serif', 'Times New Roman', serif" font-size="32.4" font-weight="normal" font-style="normal" text-anchor="start" fill="#141414">HR 0.86 95% CI 0.54-1.36, p=0.507</text>
<text x="-0.5" y="1395.7" font-family="'Liberation Sans', Arial, sans-serif" font-size="37" font-weight="bold" font-style="normal" text-anchor="start" fill="#141414">d</text>
<line x1="630.5" y1="1461.7" x2="1729.3" y2="1461.7" stroke="#141414" stroke-width="4"/>
<line x1="125.2" y1="1517.4" x2="1729.3" y2="1517.4" stroke="#141414" stroke-width="4"/>
<line x1="125.2" y1="1573.3" x2="1729.3" y2="1573.3" stroke="#141414" stroke-width="4"/>
<line x1="125.2" y1="1691.8" x2="1729.3" y2="1691.8" stroke="#141414" stroke-width="4"/>
<text x="899.9" y="1494.7" font-family="'Liberation Serif', 'Times New Roman', serif" font-size="33" font-weight="bold" font-style="normal" text-anchor="middle" fill="#141414">Colorectal Cancer (n=698)</text>
<text x="1448.9" y="1494.7" font-family="'Liberation Serif', 'Times New Roman', serif" font-size="33" font-weight="bold" font-style="normal" text-anchor="middle" fill="#141414">Breast Cancer (n=316)</text>
<text x="703.5" y="1550" font-family="'Liberation Serif', 'Times New Roman', serif" font-size="33" font-weight="bold" font-style="italic" text-anchor="middle" fill="#141414">N (%)</text>
<text x="908.3" y="1550" font-family="'Liberation Serif', 'Times New Roman', serif" font-size="33" font-weight="bold" font-style="normal" text-anchor="middle" fill="#141414">10yr CSS (SE)</text>
<text x="1104.9" y="1550" font-family="'Liberation Serif', 'Times New Roman', serif" font-size="33" font-weight="bold" font-style="italic" text-anchor="middle" fill="#141414">P</text>
<text x="1243.7" y="1550" font-family="'Liberation Serif', 'Times New Roman', serif" font-size="33" font-weight="bold" font-style="italic" text-anchor="middle" fill="#141414">N (%)</text>
<text x="1458.5" y="1550" font-family="'Liberation Serif', 'Times New Roman', serif" font-size="33" font-weight="bold" font-style="normal" text-anchor="middle" fill="#141414">10yr CSS (SE)</text>
<text x="1663.9" y="1550" font-family="'Liberation Serif', 'Times New Roman', serif" font-size="33" font-weight="bold" font-style="italic" text-anchor="middle" fill="#141414">P</text>
<text x="130.8" y="1606.6" font-family="'Liberation Serif', 'Times New Roman', serif" font-size="33" font-weight="bold" font-style="normal" text-anchor="start" fill="#141414">Cytoplasmic PMI (n=698)</text>
<text x="1103.7" y="1604.4" font-family="'Liberation Serif', 'Times New Roman', serif" font-size="33" font-weight="normal" font-style="normal" text-anchor="middle" fill="#141414">0.364</text>
<text x="1663" y="1604.4" font-family="'Liberation Serif', 'Times New Roman', serif" font-size="33" font-weight="normal" font-style="normal" text-anchor="middle" fill="#141414">0.507</text>
<text x="249.4" y="1645.4" font-family="'Liberation Serif', 'Times New Roman', serif" font-size="33" font-weight="bold" font-style="normal" text-anchor="start" fill="#141414">Low expression</text>
<text x="249.4" y="1684.2" font-family="'Liberation Serif', 'Times New Roman', serif" font-size="33" font-weight="bold" font-style="normal" text-anchor="start" fill="#141414">High expression</text>
<text x="704.2" y="1645" font-family="'Liberation Serif', 'Times New Roman', serif" font-size="33" font-weight="normal" font-style="normal" text-anchor="middle" fill="#141414">347 (50)</text>
<text x="908.2" y="1645" font-family="'Liberation Serif', 'Times New Roman', serif" font-size="33" font-weight="normal" font-style="normal" text-anchor="middle" fill="#141414">69 (3)</text>
<text x="1244.2" y="1645" font-family="'Liberation Serif', 'Times New Roman', serif" font-size="33" font-weight="normal" font-style="normal" text-anchor="middle" fill="#141414">157 (50)</text>
<text x="1458.2" y="1645" font-family="'Liberation Serif', 'Times New Roman', serif" font-size="33" font-weight="normal" font-style="normal" text-anchor="middle" fill="#141414">76 (4)</text>
<text x="704.2" y="1683.8" font-family="'Liberation Serif', 'Times New Roman', serif" font-size="33" font-weight="normal" font-style="normal" text-anchor="middle" fill="#141414">351 (50)</text>
<text x="908.2" y="1683.8" font-family="'Liberation Serif', 'Times New Roman', serif" font-size="33" font-weight="normal" font-style="normal" text-anchor="middle" fill="#141414">64 (3)</text>
<text x="1244.2" y="1683.8" font-family="'Liberation Serif', 'Times New Roman', serif" font-size="33" font-weight="normal" font-style="normal" text-anchor="middle" fill="#141414">159 (50)</text>
<text x="1458.2" y="1683.8" font-family="'Liberation Serif', 'Times New Roman', serif" font-size="33" font-weight="normal" font-style="normal" text-anchor="middle" fill="#141414">81 (3)</text>
<text x="-1" y="1830.8" font-family="'Liberation Sans', Arial, sans-serif" font-size="37.5" font-weight="bold" font-style="normal" text-anchor="start" fill="#141414">e</text>
<text x="257.5" y="2034.9" font-family="'Liberation Sans', Arial, sans-serif" font-size="39.3" font-weight="normal" font-style="normal" text-anchor="start" fill="#141414">AOM/DSS</text>
<line x1="205.7" y1="2020.8" x2="205.7" y2="2414.8" stroke="#111" stroke-width="3"/>
<line x1="204.2" y1="2413.3" x2="797.1" y2="2413.3" stroke="#111" stroke-width="3"/>
<line x1="194.7" y1="2413.3" x2="205.7" y2="2413.3" stroke="#111" stroke-width="3"/>
<text x="191.2" y="2423.3" font-family="'Liberation Sans', Arial, sans-serif" font-size="28.5" font-weight="bold" font-style="normal" text-anchor="end" fill="#111">0</text>
<line x1="194.7" y1="2282.5" x2="205.7" y2="2282.5" stroke="#111" stroke-width="3"/>
<text x="191.2" y="2292.5" font-family="'Liberation Sans', Arial, sans-serif" font-size="28.5" font-weight="bold" font-style="normal" text-anchor="end" fill="#111">10</text>
<line x1="194.7" y1="2151.7000000000003" x2="205.7" y2="2151.7000000000003" stroke="#111" stroke-width="3"/>
<text x="191.2" y="2161.7000000000003" font-family="'Liberation Sans', Arial, sans-serif" font-size="28.5" font-weight="bold" font-style="normal" text-anchor="end" fill="#111">20</text>
<line x1="194.7" y1="2020.9" x2="205.7" y2="2020.9" stroke="#111" stroke-width="3"/>
<text x="191.2" y="2030.9" font-family="'Liberation Sans', Arial, sans-serif" font-size="28.5" font-weight="bold" font-style="normal" text-anchor="end" fill="#111">30</text>
<line x1="205.7" y1="2413.3" x2="205.7" y2="2424.8" stroke="#111" stroke-width="3"/>
<text x="205.7" y="2459.3" font-family="'Liberation Sans', Arial, sans-serif" font-size="28" font-weight="bold" font-style="normal" text-anchor="middle" fill="#111">0</text>
<line x1="353.2" y1="2413.3" x2="353.2" y2="2424.8" stroke="#111" stroke-width="3"/>
<text x="353.2" y="2459.3" font-family="'Liberation Sans', Arial, sans-serif" font-size="28" font-weight="bold" font-style="normal" text-anchor="middle" fill="#111">20</text>
<line x1="500.7" y1="2413.3" x2="500.7" y2="2424.8" stroke="#111" stroke-width="3"/>
<text x="500.7" y="2459.3" font-family="'Liberation Sans', Arial, sans-serif" font-size="28" font-weight="bold" font-style="normal" text-anchor="middle" fill="#111">40</text>
<line x1="648.2" y1="2413.3" x2="648.2" y2="2424.8" stroke="#111" stroke-width="3"/>
<text x="648.2" y="2459.3" font-family="'Liberation Sans', Arial, sans-serif" font-size="28" font-weight="bold" font-style="normal" text-anchor="middle" fill="#111">60</text>
<line x1="795.7" y1="2413.3" x2="795.7" y2="2424.8" stroke="#111" stroke-width="3"/>
<text x="795.7" y="2459.3" font-family="'Liberation Sans', Arial, sans-serif" font-size="28" font-weight="bold" font-style="normal" text-anchor="middle" fill="#111">80</text>
<polyline points="242.6,2151.3 272.1,2137.8 294.2,2136.2 308.9,2128.8 323.7,2130.4 345.8,2124.0 375.3,2111.9 397.4,2119.2 412.2,2114.5 426.9,2114.4 449.1,2119.2 478.6,2109.6 500.7,2107.4 522.8,2104.8 552.3,2103.2 581.8,2107.4 604.0,2124.0 633.5,2104.8 655.6,2097.8 677.7,2097.5" fill="none" stroke="#111" stroke-width="3"/><g fill="#111"><circle cx="242.6" cy="2151.3" r="8"/><circle cx="272.1" cy="2137.8" r="8"/><circle cx="294.2" cy="2136.2" r="8"/><circle cx="308.9" cy="2128.8" r="8"/><circle cx="323.7" cy="2130.4" r="8"/><circle cx="345.8" cy="2124.0" r="8"/><circle cx="375.3" cy="2111.9" r="8"/><circle cx="397.4" cy="2119.2" r="8"/><circle cx="412.2" cy="2114.5" r="8"/><circle cx="426.9" cy="2114.4" r="8"/><circle cx="449.1" cy="2119.2" r="8"/><circle cx="478.6" cy="2109.6" r="8"/><circle cx="500.7" cy="2107.4" r="8"/><circle cx="522.8" cy="2104.8" r="8"/><circle cx="552.3" cy="2103.2" r="8"/><circle cx="581.8" cy="2107.4" r="8"/><circle cx="604.0" cy="2124.0" r="8"/><circle cx="633.5" cy="2104.8" r="8"/><circle cx="655.6" cy="2097.8" r="8"/><circle cx="677.7" cy="2097.5" r="8"/></g><polyline points="242.6,2150.3 272.1,2144.9 294.2,2149.7 308.9,2140.0 323.7,2137.8 345.8,2129.5 375.3,2120.8 397.4,2118.3 412.2,2112.2 426.9,2110.6 449.1,2115.4 478.6,2109.0 500.7,2100.0 522.8,2101.6 552.3,2092.7 581.8,2100.7 604.0,2103.2 633.5,2101.0 655.6,2090.4 677.7,2082.4" fill="none" stroke="#4a4cb0" stroke-width="3"/><g fill="#4a4cb0"><rect x="234.8" y="2142.5" width="15.6" height="15.6"/><rect x="264.3" y="2137.1" width="15.6" height="15.6"/><rect x="286.4" y="2141.9" width="15.6" height="15.6"/><rect x="301.1" y="2132.2" width="15.6" height="15.6"/><rect x="315.9" y="2130.0" width="15.6" height="15.6"/><rect x="338.0" y="2121.7" width="15.6" height="15.6"/><rect x="367.5" y="2113.0" width="15.6" height="15.6"/><rect x="389.6" y="2110.5" width="15.6" height="15.6"/><rect x="404.4" y="2104.4" width="15.6" height="15.6"/><rect x="419.1" y="2102.8" width="15.6" height="15.6"/><rect x="441.3" y="2107.6" width="15.6" height="15.6"/><rect x="470.8" y="2101.2" width="15.6" height="15.6"/><rect x="492.9" y="2092.2" width="15.6" height="15.6"/><rect x="515.0" y="2093.8" width="15.6" height="15.6"/><rect x="544.5" y="2084.9" width="15.6" height="15.6"/><rect x="574.0" y="2092.9" width="15.6" height="15.6"/><rect x="596.2" y="2095.4" width="15.6" height="15.6"/><rect x="625.7" y="2093.2" width="15.6" height="15.6"/><rect x="647.8" y="2082.6" width="15.6" height="15.6"/><rect x="669.9" y="2074.6" width="15.6" height="15.6"/></g>
<text x="499.5" y="2512.7" font-family="'Liberation Sans', Arial, sans-serif" font-size="31.6" font-weight="bold" font-style="normal" text-anchor="middle" fill="#111">Days</text>
<text transform="translate(149.2,2216) rotate(-90)" x="0" y="-6.5" font-family="'Liberation Sans', Arial, sans-serif" font-size="33" font-weight="bold" text-anchor="middle" fill="#111">mouse weight (g)</text>
<text x="964.5" y="1830.8" font-family="'Liberation Sans', Arial, sans-serif" font-size="37.5" font-weight="bold" font-style="normal" text-anchor="start" fill="#141414">f</text>
<text x="1177.7" y="1989.4" font-family="'Liberation Sans', Arial, sans-serif" font-size="39.3" font-weight="normal" font-style="normal" text-anchor="start" fill="#141414">CRC GEMM</text>
<line x1="1113.3" y1="2020.8" x2="1113.3" y2="2423.2" stroke="#111" stroke-width="3"/>
<line x1="1111.8" y1="2421.7" x2="1715.7" y2="2421.7" stroke="#111" stroke-width="3"/>
<line x1="1102.3" y1="2421.7" x2="1113.3" y2="2421.7" stroke="#111" stroke-width="3"/>
<text x="1096.5" y="2431.7" font-family="'Liberation Sans', Arial, sans-serif" font-size="28.5" font-weight="bold" font-style="normal" text-anchor="end" fill="#111">0</text>
<line x1="1102.3" y1="2278.7999999999997" x2="1113.3" y2="2278.7999999999997" stroke="#111" stroke-width="3"/>
<text x="1096.5" y="2288.7999999999997" font-family="'Liberation Sans', Arial, sans-serif" font-size="28.5" font-weight="bold" font-style="normal" text-anchor="end" fill="#111">10</text>
<line x1="1102.3" y1="2135.8999999999996" x2="1113.3" y2="2135.8999999999996" stroke="#111" stroke-width="3"/>
<text x="1096.5" y="2145.8999999999996" font-family="'Liberation Sans', Arial, sans-serif" font-size="28.5" font-weight="bold" font-style="normal" text-anchor="end" fill="#111">20</text>
<line x1="1113.3" y1="2421.7" x2="1113.3" y2="2433.2" stroke="#111" stroke-width="3"/>
<text x="1113.3" y="2467.7" font-family="'Liberation Sans', Arial, sans-serif" font-size="28" font-weight="bold" font-style="normal" text-anchor="middle" fill="#111">0</text>
<line x1="1263.5" y1="2421.7" x2="1263.5" y2="2433.2" stroke="#111" stroke-width="3"/>
<text x="1263.5" y="2467.7" font-family="'Liberation Sans', Arial, sans-serif" font-size="28" font-weight="bold" font-style="normal" text-anchor="middle" fill="#111">20</text>
<line x1="1413.6999999999998" y1="2421.7" x2="1413.6999999999998" y2="2433.2" stroke="#111" stroke-width="3"/>
<text x="1413.6999999999998" y="2467.7" font-family="'Liberation Sans', Arial, sans-serif" font-size="28" font-weight="bold" font-style="normal" text-anchor="middle" fill="#111">40</text>
<line x1="1563.8999999999999" y1="2421.7" x2="1563.8999999999999" y2="2433.2" stroke="#111" stroke-width="3"/>
<text x="1563.8999999999999" y="2467.7" font-family="'Liberation Sans', Arial, sans-serif" font-size="28" font-weight="bold" font-style="normal" text-anchor="middle" fill="#111">60</text>
<line x1="1714.1" y1="2421.7" x2="1714.1" y2="2433.2" stroke="#111" stroke-width="3"/>
<text x="1714.1" y="2467.7" font-family="'Liberation Sans', Arial, sans-serif" font-size="28" font-weight="bold" font-style="normal" text-anchor="middle" fill="#111">80</text>
<polyline points="1113.3,2061.4 1143.3,2052.5 1165.9,2066.2 1188.4,2061.4 1308.6,2048.8 1323.6,2045.1 1346.1,2042.2 1361.1,2045.1 1376.2,2042.2 1398.7,2042.2 1413.7,2045.1 1428.7,2043.0 1451.2,2044.0 1466.3,2046.6 1481.3,2045.9 1496.3,2047.7 1511.3,2048.8 1526.3,2055.1 1556.4,2055.1 1571.4,2063.6 1586.4,2055.1 1609.0,2068.0 1624.0,2059.9 1646.5,2069.9 1661.5,2079.9 1676.5,2102.0" fill="none" stroke="#4a4cb0" stroke-width="2"/><g fill="#4a4cb0"><rect x="1105.5" y="2053.6" width="15.6" height="15.6"/><rect x="1135.5" y="2044.7" width="15.6" height="15.6"/><rect x="1158.1" y="2058.4" width="15.6" height="15.6"/><rect x="1180.6" y="2053.6" width="15.6" height="15.6"/><rect x="1300.8" y="2041.0" width="15.6" height="15.6"/><rect x="1315.8" y="2037.3" width="15.6" height="15.6"/><rect x="1338.3" y="2034.4" width="15.6" height="15.6"/><rect x="1353.3" y="2037.3" width="15.6" height="15.6"/><rect x="1368.4" y="2034.4" width="15.6" height="15.6"/><rect x="1390.9" y="2034.4" width="15.6" height="15.6"/><rect x="1405.9" y="2037.3" width="15.6" height="15.6"/><rect x="1420.9" y="2035.2" width="15.6" height="15.6"/><rect x="1443.5" y="2036.2" width="15.6" height="15.6"/><rect x="1458.5" y="2038.8" width="15.6" height="15.6"/><rect x="1473.5" y="2038.1" width="15.6" height="15.6"/><rect x="1488.5" y="2039.9" width="15.6" height="15.6"/><rect x="1503.5" y="2041.0" width="15.6" height="15.6"/><rect x="1518.5" y="2047.3" width="15.6" height="15.6"/><rect x="1548.6" y="2047.3" width="15.6" height="15.6"/><rect x="1563.6" y="2055.8" width="15.6" height="15.6"/><rect x="1578.6" y="2047.3" width="15.6" height="15.6"/><rect x="1601.2" y="2060.2" width="15.6" height="15.6"/><rect x="1616.2" y="2052.1" width="15.6" height="15.6"/><rect x="1638.7" y="2062.1" width="15.6" height="15.6"/><rect x="1653.7" y="2072.1" width="15.6" height="15.6"/><rect x="1668.8" y="2094.2" width="15.6" height="15.6"/></g><polyline points="1113.3,2120.5 1143.3,2098.3 1165.9,2088.3 1188.4,2085.4 1308.6,2078.4 1323.6,2068.8 1346.1,2071.7 1361.1,2075.4 1376.2,2065.1 1398.7,2068.0 1413.7,2071.7 1428.7,2066.9 1451.2,2066.9 1466.3,2066.9 1481.3,2064.3 1496.3,2068.0 1511.3,2072.5 1526.3,2063.2 1556.4,2067.3 1571.4,2079.1 1586.4,2086.5 1609.0,2079.9 1624.0,2081.0 1646.5,2090.2 1661.5,2084.7 1676.5,2081.0" fill="none" stroke="#111" stroke-width="3"/><g fill="#111"><circle cx="1113.3" cy="2120.5" r="8"/><circle cx="1143.3" cy="2098.3" r="8"/><circle cx="1165.9" cy="2088.3" r="8"/><circle cx="1188.4" cy="2085.4" r="8"/><circle cx="1308.6" cy="2078.4" r="8"/><circle cx="1323.6" cy="2068.8" r="8"/><circle cx="1346.1" cy="2071.7" r="8"/><circle cx="1361.1" cy="2075.4" r="8"/><circle cx="1376.2" cy="2065.1" r="8"/><circle cx="1398.7" cy="2068.0" r="8"/><circle cx="1413.7" cy="2071.7" r="8"/><circle cx="1428.7" cy="2066.9" r="8"/><circle cx="1451.2" cy="2066.9" r="8"/><circle cx="1466.3" cy="2066.9" r="8"/><circle cx="1481.3" cy="2064.3" r="8"/><circle cx="1496.3" cy="2068.0" r="8"/><circle cx="1511.3" cy="2072.5" r="8"/><circle cx="1526.3" cy="2063.2" r="8"/><circle cx="1556.4" cy="2067.3" r="8"/><circle cx="1571.4" cy="2079.1" r="8"/><circle cx="1586.4" cy="2086.5" r="8"/><circle cx="1609.0" cy="2079.9" r="8"/><circle cx="1624.0" cy="2081.0" r="8"/><circle cx="1646.5" cy="2090.2" r="8"/><circle cx="1661.5" cy="2084.7" r="8"/><circle cx="1676.5" cy="2081.0" r="8"/></g>
<text x="1414.5" y="2513.8" font-family="'Liberation Sans', Arial, sans-serif" font-size="31.6" font-weight="bold" font-style="normal" text-anchor="middle" fill="#111">Days</text>
<text transform="translate(1057.3,2220.9) rotate(-90)" x="0" y="-6.5" font-family="'Liberation Sans', Arial, sans-serif" font-size="33" font-weight="bold" text-anchor="middle" fill="#111">mouse weight (g)</text>
<line x1="1168.8" y1="2197.1" x2="1210.7" y2="2197.1" stroke="#111" stroke-width="3"/>
<circle cx="1189.7" cy="2197.1" r="8" fill="#111"/>
<line x1="1168.8" y1="2251" x2="1210.7" y2="2251" stroke="#4a4cb0" stroke-width="2"/>
<rect x="1181.9" y="2243.2" width="15.6" height="15.6" fill="#4a4cb0"/>
<text x="1235" y="2207.6" font-family="'Liberation Sans', Arial, sans-serif" font-size="32.3" font-weight="normal" font-style="normal" text-anchor="start" fill="#141414">- Man</text>
<text x="1235" y="2261.5" font-family="'Liberation Sans', Arial, sans-serif" font-size="32.3" font-weight="normal" font-style="normal" text-anchor="start" fill="#141414">+ Man</text>
</svg>
</body></html>
